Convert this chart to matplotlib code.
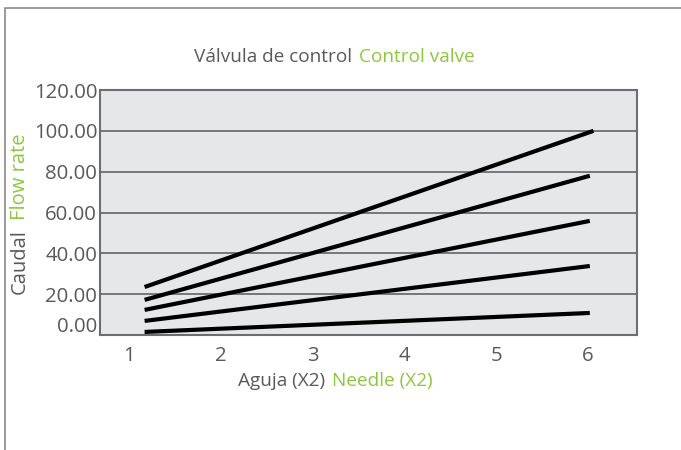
import matplotlib.pyplot as plt
from matplotlib.patches import Rectangle
from matplotlib.transforms import ScaledTranslation

# Flow rate curves for each valve setting
x_start = [1.17, 1.17, 1.17, 1.17, 1.17]
x_end = [6.06, 6.02, 6.02, 6.02, 6.02]
y_start = [23.5, 17.2, 12.3, 6.9, 1.5]
y_end = [100.0, 78.0, 55.9, 33.8, 10.8]

x_ticks = [1, 2, 3, 4, 5, 6]
y_ticks = [0, 20, 40, 60, 80, 100, 120]

GREY = '#58595b'
GREEN = '#8dc63f'
FONT = 'Open Sans'

plt.rcParams['font.family'] = FONT
plt.rcParams['font.weight'] = 'medium'

fig = plt.figure(figsize=(6.81, 4.5), dpi=100)
ax = fig.add_axes([100 / 681, 1 - 335 / 450, 537 / 681, 245 / 450])

# outer frame of the panel
fig.patches.append(Rectangle((5 / 681, -0.1), 1.2, (450 - 8) / 450 + 0.1,
                             transform=fig.transFigure, fill=False,
                             edgecolor='#8a8a8a', linewidth=1.2))

ax.set_facecolor('#e6e7e8')
for x0, x1, y0, y1 in zip(x_start, x_end, y_start, y_end):
    ax.plot([x0, x1], [y0, y1], color='black', linewidth=3, solid_capstyle='butt', zorder=3)

ax.set_xlim(0.684, 6.534)
ax.set_ylim(0, 120)
ax.set_xticks(x_ticks)
ax.set_yticks(y_ticks)
ax.set_yticklabels([f'{v:.2f}' for v in y_ticks])
ax.tick_params(length=0, colors=GREY, labelsize=14.7)
ax.tick_params(axis='x', pad=8)
ax.tick_params(axis='y', pad=2)
ax.yaxis.grid(True, color='#6d6e71', linewidth=1.3)
ax.set_axisbelow(True)
for s in ax.spines.values():
    s.set_color('#6d6e71')
    s.set_linewidth(1.5)

# lift the bottom tick label clear of the x labels
lbl0 = ax.get_yticklabels()[0]
lbl0.set_transform(lbl0.get_transform() + ScaledTranslation(0, 10 / 100, fig.dpi_scale_trans))


def two_tone(x, y, first, second, rotation=0, size=11.5, gap=7):
    """Draw a grey/green label pair centred on (x, y) in figure pixels."""
    renderer = fig.canvas.get_renderer()
    t1 = fig.text(0, 0, first, color=GREY, fontsize=size, rotation=rotation,
                  ha='left', va='center', rotation_mode='anchor')
    t2 = fig.text(0, 0, second, color=GREEN, fontsize=size, rotation=rotation,
                  ha='left', va='center', rotation_mode='anchor')
    if rotation == 0:
        w1 = t1.get_window_extent(renderer).width
        w2 = t2.get_window_extent(renderer).width
        x0 = x - (w1 + gap + w2) / 2
        t1.set_position((x0 / 681, 1 - y / 450))
        t2.set_position(((x0 + w1 + gap) / 681, 1 - y / 450))
    else:
        h1 = t1.get_window_extent(renderer).height
        h2 = t2.get_window_extent(renderer).height
        y0 = y + (h1 + gap + h2) / 2
        t1.set_position((x / 681, 1 - y0 / 450))
        t2.set_position((x / 681, 1 - (y0 - h1 - gap) / 450))


two_tone(334, 57, 'Válvula de control', 'Control valve', size=13.7)
two_tone(335, 381, 'Aguja (X2)', 'Needle (X2)', size=13.7)
two_tone(20, 214, 'Caudal', 'Flow rate', rotation=90, size=14.5, gap=9)

fig.savefig('out.png', dpi=100, facecolor='white')
